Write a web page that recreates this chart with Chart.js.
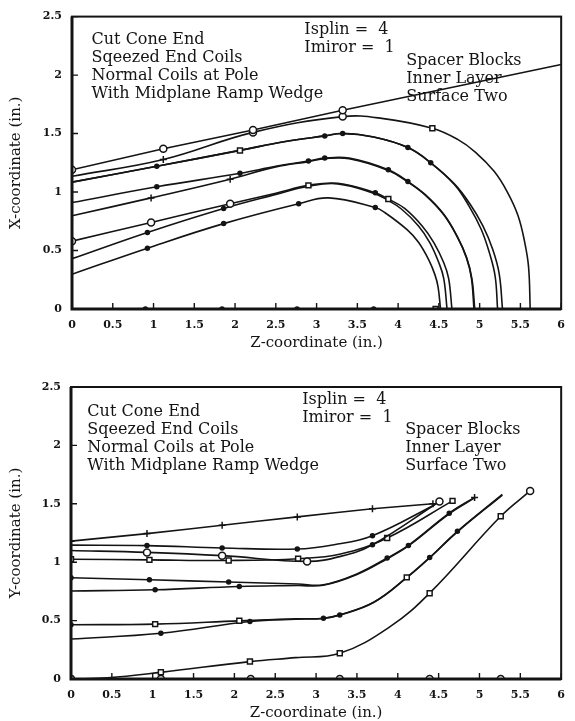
<!DOCTYPE html>
<html><head><meta charset="utf-8">
<script src="https://cdn.jsdelivr.net/npm/chart.js@4"></script>
<style>
html,body{margin:0;padding:0;background:#fff;overflow:hidden;width:575px;height:721px}
#w1{position:absolute;left:0;top:0;width:575px;height:360px}
#w2{position:absolute;left:0;top:365px;width:575px;height:365px}
</style></head><body>
<div id="w1"><canvas id="c1"></canvas></div>
<div id="w2"><canvas id="c2"></canvas></div>
<script>
// ---------- DATA ----------
const zTickLabels = ["0","0.5","1","1.5","2","2.5","3","3.5","4","4.5","5","5.5","6"];
const vTickLabels = ["0","0.5","1","1.5","2","2.5"];
const zTitle = "Z-coordinate (in.)";
const topTitle = "X-coordinate (in.)";
const botTitle = "Y-coordinate (in.)";
const noteLeft = ["Cut Cone End","Sqeezed End Coils","Normal Coils at Pole","With Midplane Ramp Wedge"];
const noteMid = ["Isplin =  4","Imiror =  1"];
const noteRight = ["Spacer Blocks","Inner Layer","Surface Two"];

// Top chart: X-coordinate vs Z-coordinate
const topA = [[0,1.19],[1.12,1.37],[2.22,1.53],[3.32,1.70],[6,2.09]];
const topB = [[0,1.135],[1.12,1.278],[2.22,1.51],[3.32,1.645],[3.8,1.63],[4.42,1.545],[4.73,1.45],[4.95,1.34],[5.18,1.175],[5.34,1.0],[5.47,0.80],[5.55,0.58],[5.60,0.36],[5.62,0]];
const topC = [[0,1.085],[1.04,1.22],[2.06,1.356],[2.6,1.43],[3.10,1.48],[3.32,1.50],[3.7,1.47],[4.12,1.38],[4.40,1.25],[4.69,1.07],[4.88,0.90],[5.04,0.71],[5.16,0.51],[5.24,0.30],[5.28,0]];
const topC2 = [[0,1.085],[1.04,1.22],[2.06,1.356],[2.6,1.43],[3.10,1.48],[3.32,1.50],[3.7,1.47],[4.12,1.38],[4.40,1.25],[4.69,1.065],[4.87,0.88],[5.02,0.68],[5.12,0.48],[5.19,0.28],[5.22,0]];
const topD = [[0,0.91],[1.04,1.045],[2.06,1.16],[2.5,1.22],[2.90,1.265],[3.10,1.29],[3.4,1.29],[3.88,1.19],[4.12,1.09],[4.33,0.98],[4.56,0.81],[4.73,0.615],[4.84,0.44],[4.905,0.26],[4.94,0]];
const topE = [[0,0.797],[0.97,0.95],[1.94,1.11],[2.5,1.215],[2.90,1.26],[3.10,1.285],[3.4,1.285],[3.88,1.185],[4.12,1.085],[4.33,0.975],[4.56,0.805],[4.73,0.61],[4.84,0.435],[4.90,0.26],[4.93,0]];
const topF = [[0,0.58],[0.97,0.74],[1.94,0.90],[2.5,0.99],[2.90,1.057],[3.26,1.075],[3.72,0.994],[3.88,0.94],[4.08,0.86],[4.295,0.71],[4.44,0.566],[4.56,0.395],[4.62,0.26],[4.66,0]];
const topG = [[0,0.43],[0.925,0.655],[1.86,0.86],[2.5,0.98],[2.90,1.05],[3.26,1.07],[3.70,0.99],[3.86,0.935],[4.04,0.855],[4.25,0.71],[4.39,0.566],[4.50,0.395],[4.56,0.26],[4.60,0]];
const topH = [[0,0.297],[0.925,0.52],[1.86,0.73],[2.78,0.90],[3.15,0.95],[3.72,0.867],[3.84,0.823],[4.11,0.678],[4.25,0.57],[4.38,0.414],[4.45,0.296],[4.49,0.19],[4.52,0]];
const topAxis = [[0,0],[0.9,0],[1.84,0],[2.76,0],[3.70,0],[4.46,0]];

// Bottom chart: Y-coordinate vs Z-coordinate
const botL1 = [[0,1.18],[0.93,1.245],[1.85,1.316],[2.77,1.388],[3.69,1.457],[4.43,1.50]];
const botL2 = [[0,1.146],[0.93,1.142],[1.85,1.122],[2.77,1.113],[3.22,1.15],[3.69,1.227],[4.45,1.49]];
const botL3 = [[0,1.10],[0.93,1.084],[1.85,1.056],[2.89,1.007],[3.3,1.05],[3.69,1.15],[4.51,1.52]];
const botL4 = [[0,1.025],[0.96,1.02],[1.93,1.015],[2.78,1.03],[3.3,1.07],[3.87,1.207],[4.67,1.525]];
const botL5 = [[0,0.867],[0.96,0.85],[1.93,0.83],[2.78,0.813],[3.09,0.807],[3.5,0.90],[3.87,1.036],[4.13,1.144],[4.63,1.42],[4.94,1.555]];
const botL6 = [[0,0.753],[1.03,0.764],[2.06,0.792],[2.78,0.80],[3.09,0.803],[3.5,0.895],[3.87,1.03],[4.13,1.14],[4.63,1.415],[4.95,1.555]];
const botL7 = [[0,0.465],[1.03,0.47],[2.06,0.498],[2.75,0.515],[3.09,0.52],[3.29,0.549],[3.71,0.66],[4.11,0.87],[4.39,1.04],[4.73,1.264],[5.28,1.58]];
const botL8 = [[0,0.342],[1.10,0.392],[2.19,0.492],[2.75,0.512],[3.09,0.518],[3.29,0.547],[3.71,0.657],[4.11,0.867],[4.39,1.037],[4.73,1.26],[5.28,1.575]];
const botL9 = [[0,0],[0.45,0.01],[1.10,0.057],[2.19,0.149],[2.75,0.183],[3.29,0.22],[3.91,0.45],[4.39,0.735],[5.26,1.393],[5.62,1.61]];
const botAxis = [[0,0],[1.10,0],[2.20,0],[3.29,0],[4.39,0],[5.26,0]];

// ---------- STYLE ----------
const INK = '#141414';
const FONT = '"DejaVu Serif", serif';
const topSeries = [
  {d: topA, t: 0, mk: {0:'circle',1:'circle',2:'circle',3:'circle'}},
  {d: topB, t: 0.4, mk: {1:'cross',2:'circle',3:'circle',5:'rect'}},
  {d: topC, t: 0.4, mk: {1:'dot',2:'rect',4:'dot',5:'dot',7:'dot',8:'dot'}},
  {d: topC2, t: 0.4, mk: {}},
  {d: topD, t: 0.4, mk: {1:'dot',2:'dot',4:'dot',5:'dot',7:'dot',8:'dot'}},
  {d: topE, t: 0.4, mk: {1:'cross',2:'cross'}},
  {d: topF, t: 0.4, mk: {0:'circle',1:'circle',2:'circle',4:'rect',6:'dot',7:'rect'}},
  {d: topG, t: 0.4, mk: {1:'dot',2:'dot'}},
  {d: topH, t: 0.4, mk: {1:'dot',2:'dot',3:'dot',5:'dot'}},
  {d: topAxis, t: 0, mk: {1:'dot',2:'dot',3:'dot',4:'dot',5:'rect'}}
];
const botSeries = [
  {d: botL1, t: 0.2, mk: {0:'cross',1:'cross',2:'cross',3:'cross',4:'cross',5:'cross'}},
  {d: botL2, t: 0.4, mk: {1:'dot',2:'dot',3:'dot',5:'dot'}},
  {d: botL3, t: 0.4, mk: {1:'circle',2:'circle',3:'circle',5:'dot',6:'circle'}},
  {d: botL4, t: 0.4, mk: {0:'rect',1:'rect',2:'rect',3:'rect',5:'rect',6:'rect'}},
  {d: botL5, t: 0.4, mk: {0:'dot',1:'dot',2:'dot',6:'dot',7:'dot',8:'dot',9:'cross'}},
  {d: botL6, t: 0.4, mk: {1:'dot',2:'dot'}},
  {d: botL7, t: 0.4, mk: {0:'dot',1:'rect',2:'rect',4:'dot',5:'dot',7:'rect',8:'dot',9:'dot'}},
  {d: botL8, t: 0.4, mk: {1:'dot',2:'dot'}},
  {d: botL9, t: 0.4, mk: {0:'circle',2:'rect',3:'rect',5:'rect',7:'rect',8:'rect',9:'circle'}},
  {d: botAxis, t: 0, mk: {0:'circle',1:'circle',2:'circle',3:'circle',4:'circle',5:'circle'}}
];

function toDataset(s){
  const m = s.mk;
  return {
    data: s.d.map(p => ({x: p[0], y: p[1]})),
    showLine: true,
    tension: s.t,
    borderColor: INK,
    borderWidth: 1.6,
    pointStyle: c => { const k = m[c.dataIndex]; return k === 'dot' ? 'circle' : (k || 'circle'); },
    pointRadius: c => { const k = m[c.dataIndex]; return !k ? 0 : (k === 'dot' ? 2 : (k === 'cross' ? 3.5 : 3.5)); },
    pointBackgroundColor: c => m[c.dataIndex] === 'dot' ? INK : '#fff',
    pointBorderColor: INK,
    pointBorderWidth: 1.5,
    pointHoverRadius: 0
  };
}

const notePlugin = {
  id: 'notes',
  beforeDatasetsDraw(chart, args, o){
    const {ctx, scales:{x, y}} = chart;
    ctx.save();
    ctx.fillStyle = INK;
    ctx.font = '16px ' + FONT;
    ctx.textBaseline = 'middle';
    ctx.textAlign = 'left';
    const draw = (lines, z, v) => {
      const px = x.getPixelForValue(z), py = y.getPixelForValue(v);
      lines.forEach((t, i) => ctx.fillText(t, px, py + i * o.lh));
    };
    draw(noteLeft, o.left[0], o.left[1]);
    draw(noteMid, o.mid[0], o.mid[1]);
    draw(noteRight, o.right[0], o.right[1]);
    ctx.restore();
  }
};
const framePlugin = {
  id: 'frame',
  afterDraw(chart){
    const {ctx, chartArea: a, scales:{x, y}} = chart;
    ctx.save();
    ctx.strokeStyle = INK;
    ctx.lineWidth = 2;
    ctx.strokeRect(a.left, a.top, a.right - a.left, a.bottom - a.top);
    ctx.lineWidth = 3;
    ctx.beginPath();
    ctx.moveTo(a.left, a.top); ctx.lineTo(a.left, a.bottom); ctx.lineTo(a.right, a.bottom);
    ctx.stroke();
    ctx.lineWidth = 1.4;
    ctx.beginPath();
    x.ticks.forEach(t => { const p = x.getPixelForValue(t.value); ctx.moveTo(p, a.bottom); ctx.lineTo(p, a.bottom - 6); });
    y.ticks.forEach(t => { const p = y.getPixelForValue(t.value); ctx.moveTo(a.left, p); ctx.lineTo(a.left + 6, p); });
    ctx.stroke();
    ctx.restore();
  }
};

function makeChart(id, series, yTitle, padTop, yWidth, notes){
  return new Chart(document.getElementById(id), {
    type: 'scatter',
    data: { datasets: series.map(toDataset) },
    plugins: [notePlugin, framePlugin],
    options: {
      responsive: true, maintainAspectRatio: false, animation: false,
      layout: { padding: { top: padTop, right: 3, left: 0, bottom: 0 } },
      plugins: { legend: { display: false }, tooltip: { enabled: false }, notes: notes },
      events: [],
      scales: {
        x: {
          type: 'linear', min: 0, max: 6,
          afterFit: s => { s.height = 51; },
          grid: { display: false, drawTicks: false },
          border: { display: false },
          ticks: { stepSize: 0.5, autoSkip: false, maxRotation: 0, padding: 10, color: INK,
            font: { family: FONT, size: 11, weight: 'bold' },
            callback: (v, i) => zTickLabels[i] },
          title: { display: true, text: zTitle, color: INK, font: { family: FONT, size: 15 }, padding: { top: 0, bottom: 8 } }
        },
        y: {
          type: 'linear', min: 0, max: 2.5,
          afterFit: s => { s.width = yWidth; },
          grid: { display: false, drawTicks: false },
          border: { display: false },
          ticks: { stepSize: 0.5, autoSkip: false, padding: 10, color: INK,
            font: { family: FONT, size: 11, weight: 'bold' },
            callback: (v, i) => vTickLabels[i] },
          title: { display: true, text: yTitle, color: INK, font: { family: FONT, size: 15 }, padding: { top: 7, bottom: 0 } }
        }
      }
    }
  });
}

makeChart('c1', topSeries, topTitle, 14, 72, {left:[0.24, 2.30], mid:[2.85, 2.385], right:[4.10, 2.12], lh: 18});
makeChart('c2', botSeries, botTitle, 22, 71, {left:[0.20, 2.29], mid:[2.83, 2.39], right:[4.09, 2.13], lh: 18});
</script>
</body></html>
